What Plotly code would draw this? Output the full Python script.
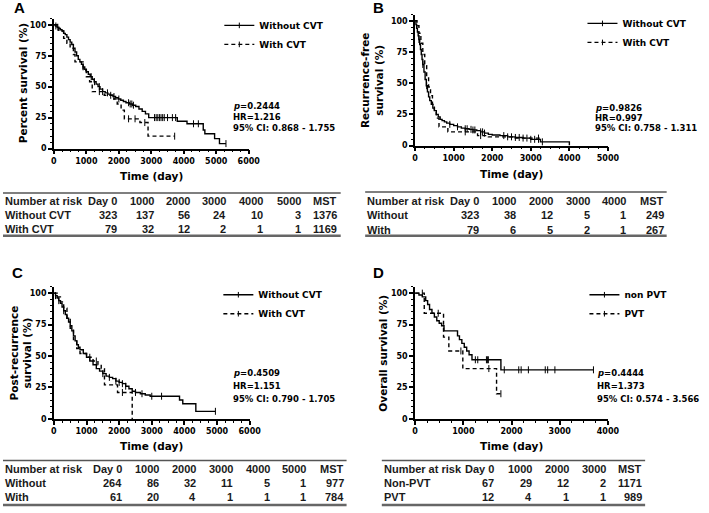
import numpy as np
import plotly.graph_objects as go

# ---------------- DATA ----------------
# Panel A: overall survival (days, %)
A_wo_t = [0, 50, 100, 150, 200, 250, 300, 350, 400, 450, 500, 550, 600, 650, 700, 750, 800, 850, 900, 950,
          1000, 1060, 1120, 1180, 1240, 1300, 1360, 1420, 1500, 1580, 1660, 1740, 1820, 1900, 1980, 2060, 2140,
          2220, 2320, 2420, 2520, 2620, 2720, 2820, 2920, 3800, 4100, 4600, 4650, 4950, 5100, 5300]
A_wo_s = [100, 99, 98, 97, 96, 95, 93, 92, 90, 88, 86, 84, 81, 78, 75, 72, 70, 68, 66, 64,
          62, 60, 58, 56, 54, 52, 50, 48, 46, 45, 44, 43, 42, 41, 40, 39, 38,
          37, 36, 35, 34, 32, 30, 28, 25, 22, 20, 15, 12, 8, 4, 4]
A_wo_cens = [60, 120, 900, 1150, 1250, 1400, 1500, 1650, 1750, 1850, 2000, 2300, 2350, 2400, 2450,
             3100, 3150, 3200, 3250, 3300, 3350, 3400, 3500, 3650, 3750, 4300, 4450, 5300]
A_w_t = [0, 150, 300, 400, 500, 600, 650, 900, 1000, 1100, 1180, 1550, 1850, 1950, 2070, 2170, 2650, 2900, 3720]
A_w_s = [100, 95, 89, 85, 81, 76, 70, 63, 58, 54, 46, 43, 40, 36, 31, 24, 21, 10, 10]
A_w_cens = [1400, 2300, 2500, 2800, 3720]

# Panel B: recurrence-free survival
B_wo_t = [0, 20, 40, 60, 80, 100, 120, 140, 160, 180, 200, 230, 260, 290, 320, 350, 380, 420, 460, 500,
          550, 600, 650, 700, 760, 820, 900, 1000, 1100, 1200, 1300, 1400, 1500, 1600, 1700, 1800, 1900,
          2000, 2200, 2400, 2600, 2800, 3000, 3250, 4000]
B_wo_s = [100, 97, 94, 91, 88, 85, 81, 77, 73, 69, 65, 59, 53, 48, 43, 39, 36, 33, 30, 28,
          25, 23, 21, 20, 19, 18, 17, 16, 15, 14, 13.5, 13, 12.5, 12, 11, 10, 9,
          8.5, 8, 7, 6.5, 6, 5, 3, 0]
B_wo_cens = [100, 200, 300, 900, 1100, 1300, 1350, 1450, 1500, 1550, 1700, 1750, 1800, 2300, 2400,
             2500, 2600, 2700, 2800, 2900, 3000, 3100, 3200, 3300]
B_w_t = [0, 50, 100, 150, 200, 250, 300, 350, 400, 450, 500, 550, 620, 850, 1620, 1900, 2600, 3300]
B_w_s = [100, 96, 90, 82, 73, 64, 55, 47, 40, 33, 27, 22, 15, 11, 8, 7, 6, 6]
B_w_cens = [1300, 1700, 3200]

# Panel C: post-recurrence survival
C_wo_t = [0, 50, 100, 150, 200, 250, 300, 350, 400, 450, 500, 550, 600, 650, 700, 750, 800, 900, 1000, 1100,
          1200, 1300, 1400, 1500, 1600, 1700, 1800, 1900, 2000, 2100, 2200, 2300, 2400, 2500, 2650, 2800,
          2950, 3850, 3950, 4350, 4950]
C_wo_s = [100, 98, 96, 94, 92, 89, 86, 83, 80, 77, 74, 70, 66, 62, 59, 57, 55, 52, 49, 46,
          43, 40, 38, 36, 34, 33, 32, 30, 29, 28, 26, 24, 22, 21, 20, 19,
          18, 15, 12, 6, 6]
C_wo_cens = [50, 150, 300, 1500, 1700, 1900, 2000, 2100, 2200, 2500, 2700, 3000, 3300, 4950]
C_w_t = [0, 100, 200, 300, 400, 500, 600, 700, 800, 1000, 1200, 1350, 1450, 1550, 1950, 2400]
C_w_s = [100, 97, 93, 88, 80, 72, 63, 56, 52, 49, 46, 43, 40, 27, 21, 0]
C_w_cens = [1100, 1300, 2100]

# Panel D: overall survival, non PVT vs PVT
D_n_t = [0, 80, 150, 220, 260, 300, 350, 400, 450, 500, 550, 600, 880, 920, 970, 1020, 1070, 1120, 1180,
         1780, 3700]
D_n_s = [100, 98.5, 97, 94, 91, 87, 84, 81, 78, 76, 74, 70, 66, 63, 60, 57, 54, 51, 47, 39, 39]
D_n_cens = [1250, 1300, 1480, 1500, 1520, 1850, 2150, 2200, 2350, 2700, 2750, 2900, 3700]
D_p_t = [0, 190, 590, 700, 990, 1690, 1780]
D_p_s = [100, 84, 65, 54, 40, 20, 20]
D_p_cens = [150, 480, 950, 1530, 1780]

# Statistics text
A_stats = ["<i>p</i>=0.2444", "HR=1.216", "95% CI: 0.868 - 1.755"]
B_stats = ["<i>p</i>=0.9826", "HR=0.997", "95% CI: 0.758 - 1.311"]
C_stats = ["<i>p</i>=0.4509", "HR=1.151", "95% CI: 0.790 - 1.705"]
D_stats = ["<i>p</i>=0.4444", "HR=1.373", "95% CI: 0.574 - 3.566"]

# Number-at-risk tables
A_head = ["Number at risk", "Day 0", "1000", "2000", "3000", "4000", "5000", "MST"]
A_rows = [["Without CVT", 323, 137, 56, 24, 10, 3, 1376], ["With CVT", 79, 32, 12, 2, 1, 1, 1169]]
B_head = ["Number at risk", "Day 0", "1000", "2000", "3000", "4000", "MST"]
B_rows = [["Without", 323, 38, 12, 5, 1, 249], ["With", 79, 6, 5, 2, 1, 267]]
C_head = ["Number at risk", "Day 0", "1000", "2000", "3000", "4000", "5000", "MST"]
C_rows = [["Without", 264, 86, 32, 11, 5, 1, 977], ["With", 61, 20, 4, 1, 1, 1, 784]]
D_head = ["Number at risk", "Day 0", "1000", "2000", "3000", "MST"]
D_rows = [["Non-PVT", 67, 29, 12, 2, 1171], ["PVT", 12, 4, 1, 1, 989]]

# ---------------- LAYOUT HELPERS ----------------
W, H = 709, 513
def fx(p): return p / W
def fy(p): return 1 - p / H

FONT = "DejaVu Sans"
TFONT = "Liberation Sans"

def step_at(ts, ss, t):
    i = int(np.searchsorted(np.asarray(ts), t, side="right")) - 1
    i = max(0, min(i, len(ss) - 1))
    return ss[i]

panels = [
    dict(letter="A", xmax=6000, xpx=(52, 251), ypx=(150, 25),
         curves=[(A_wo_t, A_wo_s, A_wo_cens, "Without CVT", "solid"),
                 (A_w_t, A_w_s, A_w_cens, "With CVT", "4px,3px")],
         ytitle="Percent survival (%)", ytx=20, letpos=(17, 8),
         xtitle_y=178, legpos=(221, 11), stats=A_stats, statpos=(233, [107, 118, 129]),
         head=A_head, rows=A_rows, tlx=(0, 345), cols=[118, 156, 193, 230, 268, 306, 343],
         tly=(195, 203, 217, 231, 238)),
    dict(letter="B", xmax=5000, xpx=(421, 618), ypx=(147, 21),
         curves=[(B_wo_t, B_wo_s, B_wo_cens, "Without CVT", "solid"),
                 (B_w_t, B_w_s, B_w_cens, "With CVT", "4px,3px")],
         ytitle="Recurrence-free<br>survival (%)", ytx=377, letpos=(384, 8),
         xtitle_y=176, legpos=(592, 9), stats=B_stats, statpos=(603, [109, 119, 129]),
         head=B_head, rows=B_rows, tlx=(370, 678), cols=[488, 526, 564, 602, 639, 677],
         tly=(194, 203, 217, 232, 238)),
    dict(letter="C", xmax=6000, xpx=(52, 252), ypx=(423, 296),
         curves=[(C_wo_t, C_wo_s, C_wo_cens, "Without CVT", "solid"),
                 (C_w_t, C_w_s, C_w_cens, "With CVT", "4px,3px")],
         ytitle="Post-recurrence<br>survival (%)", ytx=18, letpos=(15, 275),
         xtitle_y=450, legpos=(220, 283), stats=C_stats, statpos=(233, [377, 390, 403]),
         head=C_head, rows=C_rows, tlx=(0, 351), cols=[124, 161, 199, 237, 275, 312, 350],
         tly=(465, 474, 488, 502, 510)),
    dict(letter="D", xmax=4000, xpx=(421, 618), ypx=(423, 296),
         curves=[(D_n_t, D_n_s, D_n_cens, "non PVT", "solid"),
                 (D_p_t, D_p_s, D_p_cens, "PVT", "4px,3px")],
         ytitle="Overall survival (%)", ytx=388, letpos=(384, 275),
         xtitle_y=450, legpos=(594, 283), stats=D_stats, statpos=(605, [377, 390, 403]),
         head=D_head, rows=D_rows, tlx=(387, 656), cols=[504, 542, 580, 618, 655],
         tly=(465, 474, 488, 502, 510)),
]

fig = go.Figure()
layout = dict(width=W, height=H, margin=dict(l=0, r=0, t=0, b=0), paper_bgcolor="white",
              plot_bgcolor="white", showlegend=True)
annotations = []
shapes = []

tick_marker = dict(symbol="line-ns-open", size=5, color="black", line=dict(width=1, color="black"))
leg_marker = dict(symbol="line-ns-open", size=4, color="black", line=dict(width=1, color="black"))

for k, p in enumerate(panels):
    sfx = "" if k == 0 else str(k + 1)
    xa, ya = "x" + sfx, "y" + sfx
    legname = "legend" if k == 0 else "legend" + str(k + 1)
    for (ts, ss, cens, name, dash) in p["curves"]:
        fig.add_trace(go.Scatter(x=ts, y=ss, mode="lines", xaxis=xa, yaxis=ya, showlegend=False,
                                 line=dict(color="black", width=1.4, shape="hv", dash=dash),
                                 hoverinfo="skip"))
        cy = [step_at(ts, ss, c) for c in cens]
        fig.add_trace(go.Scatter(x=cens, y=cy, mode="markers", xaxis=xa, yaxis=ya, showlegend=False,
                                 marker=tick_marker, cliponaxis=False, hoverinfo="skip"))
        fig.add_trace(go.Scatter(x=[None], y=[None], mode="lines+markers", xaxis=xa, yaxis=ya,
                                 name=name, legend=legname,
                                 line=dict(color="black", width=1.4, dash=dash),
                                 marker=leg_marker))
    x0, x1 = p["xpx"]
    yb, yt100 = p["ypx"]
    ytop = yb - 1.05 * (yb - yt100)
    axfont = dict(family=FONT, size=8, color="black", weight="bold")
    layout["xaxis" + sfx] = dict(domain=[fx(x0), fx(x1)], anchor=ya, range=[0, p["xmax"]],
                                 dtick=1000, tick0=0, showline=True, linecolor="black", linewidth=1.6,
                                 ticks="outside", ticklen=4, tickwidth=1.5, tickcolor="black",
                                 showgrid=False, zeroline=False, tickfont=axfont,
                                 minor=dict(ticks="outside", ticklen=2, tickwidth=1, dtick=250,
                                            tickcolor="black", showgrid=False))
    layout["yaxis" + sfx] = dict(domain=[fy(yb), fy(ytop)], anchor=xa, range=[0, 105],
                                 tickvals=[0, 25, 50, 75, 100], showline=True, linecolor="black",
                                 linewidth=1.6, ticks="outside", ticklen=4, tickwidth=1.5,
                                 tickcolor="black", showgrid=False, zeroline=False, tickfont=axfont,
                                 minor=dict(ticks="outside", ticklen=2, tickwidth=1, dtick=5,
                                            tickcolor="black", showgrid=False))
    lx, ly = p["legpos"]
    layout[legname] = dict(x=fx(lx), y=fy(ly), xanchor="left", yanchor="top",
                           bgcolor="rgba(0,0,0,0)", tracegroupgap=0, itemwidth=30,
                           font=dict(family=FONT, size=9, color="black", weight="bold"))
    # panel letter
    annotations.append(dict(text=p["letter"], x=fx(p["letpos"][0]), y=fy(p["letpos"][1]),
                            xref="paper", yref="paper", showarrow=False, xanchor="center",
                            yanchor="middle", font=dict(family=TFONT, size=15, color="black",
                                                        weight="bold")))
    # axis titles
    annotations.append(dict(text=p["ytitle"], x=fx(p["ytx"]), y=fy((yb + ytop) / 2),
                            xref="paper", yref="paper", showarrow=False, textangle=-90,
                            xanchor="center", yanchor="middle",
                            font=dict(family=FONT, size=10.5, color="black", weight="bold")))
    annotations.append(dict(text="Time (day)", x=fx((x0 + x1) / 2), y=fy(p["xtitle_y"]),
                            xref="paper", yref="paper", showarrow=False, xanchor="center",
                            yanchor="middle",
                            font=dict(family=FONT, size=10.5, color="black", weight="bold")))
    # stats
    sx, sys_ = p["statpos"]
    for txt, yy in zip(p["stats"], sys_):
        annotations.append(dict(text=txt, x=fx(sx), y=fy(yy), xref="paper", yref="paper",
                                showarrow=False, xanchor="left", yanchor="middle",
                                font=dict(family=FONT, size=8.5, color="black", weight="bold")))
    # table
    tl0, tl1 = p["tlx"]
    ytop_line, yhead, yr1, yr2, ybot_line = p["tly"]
    shapes.append(dict(type="line", xref="paper", yref="paper", x0=fx(tl0), x1=fx(tl1),
                       y0=fy(ytop_line), y1=fy(ytop_line), line=dict(color="#555", width=1.5)))
    shapes.append(dict(type="line", xref="paper", yref="paper", x0=fx(tl0), x1=fx(tl1),
                       y0=fy(ybot_line), y1=fy(ybot_line), line=dict(color="#666", width=2.5)))
    tfont = dict(family=TFONT, size=11, color="#1a1a1a", weight="bold")
    for row, yy in zip([p["head"]] + p["rows"], [yhead, yr1, yr2]):
        annotations.append(dict(text=str(row[0]), x=fx(tl0), y=fy(yy), xref="paper", yref="paper",
                                showarrow=False, xanchor="left", yanchor="middle", font=tfont))
        for val, cx in zip(row[1:], p["cols"]):
            annotations.append(dict(text=str(val), x=fx(cx), y=fy(yy), xref="paper",
                                    yref="paper", showarrow=False, xanchor="right",
                                    yanchor="middle", font=tfont))

layout["annotations"] = annotations
layout["shapes"] = shapes
fig.update_layout(**layout)
fig.write_html("out.html")
